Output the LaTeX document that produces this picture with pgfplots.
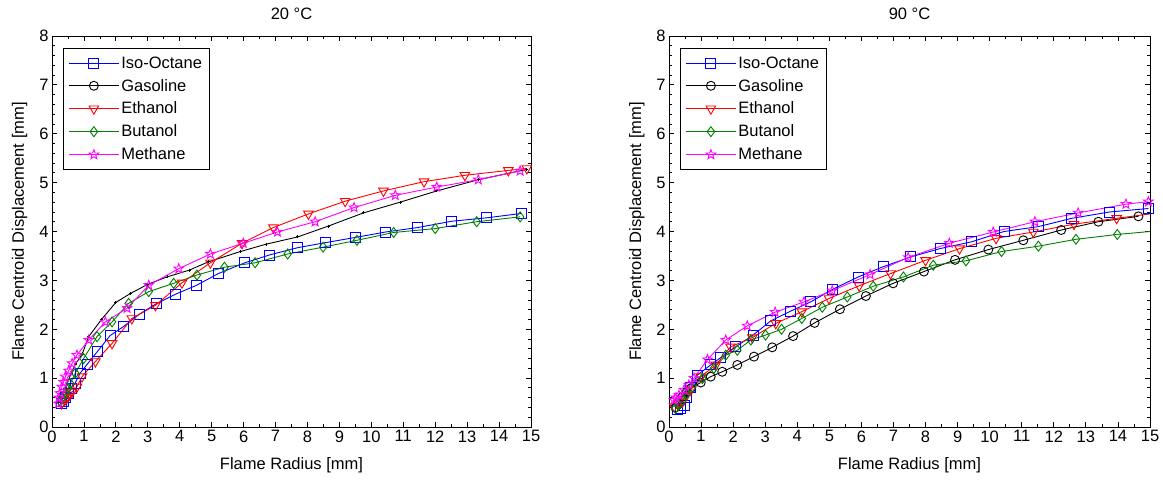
\documentclass[border=0pt]{standalone}
\usepackage{fontspec}
\setmainfont{Liberation Sans}
\usepackage{pgfplots}
\pgfplotsset{compat=1.18}

\pgfdeclareplotmark{pentagram}{%
  \pgfpathmoveto{\pgfpointpolar{90}{\pgfplotmarksize}}%
  \pgfpathlineto{\pgfpointpolar{126}{0.42\pgfplotmarksize}}%
  \pgfpathlineto{\pgfpointpolar{162}{\pgfplotmarksize}}%
  \pgfpathlineto{\pgfpointpolar{198}{0.42\pgfplotmarksize}}%
  \pgfpathlineto{\pgfpointpolar{234}{\pgfplotmarksize}}%
  \pgfpathlineto{\pgfpointpolar{270}{0.42\pgfplotmarksize}}%
  \pgfpathlineto{\pgfpointpolar{306}{\pgfplotmarksize}}%
  \pgfpathlineto{\pgfpointpolar{342}{0.42\pgfplotmarksize}}%
  \pgfpathlineto{\pgfpointpolar{18}{\pgfplotmarksize}}%
  \pgfpathlineto{\pgfpointpolar{54}{0.42\pgfplotmarksize}}%
  \pgfpathclose
  \pgfusepathqstroke
}

\definecolor{mblue}{RGB}{0,0,255}
\definecolor{mred}{RGB}{255,0,0}
\definecolor{mgreen}{RGB}{0,128,0}
\definecolor{mmag}{RGB}{255,0,255}

\newcommand{\fs}{\fontsize{16.5}{19}\selectfont}

\pgfplotsset{
  myaxis/.style={
    scale only axis, width=479pt, height=391pt,
    xmin=0, xmax=15, ymin=0, ymax=8,
    xtick={0,1,...,15}, ytick={0,1,...,8},
    minor x tick num=1, minor y tick num=4,
    tick align=inside, major tick length=5pt, minor tick length=3pt,
    tick style={black, line width=0.8pt},
    axis line style={line width=0.8pt},
    every axis plot/.append style={line width=0.9pt},
    tick label style={font=\fs},
    label style={font=\fs},
    title style={font=\fs, yshift=7pt},
    xlabel={Flame Radius [mm]},
    ylabel={Flame Centroid Displacement [mm]},
    xlabel style={yshift=-8pt},
    ylabel style={yshift=5pt},
    /pgf/number format/assume math mode=true,
    legend cell align=left,
    legend style={at={(0.023,0.969)}, anchor=north west, draw=black, line width=0.8pt,
      font=\fs, row sep=5.5pt, inner xsep=5pt, inner ysep=6pt},
    legend image code/.code={\draw[mark repeat=2,mark phase=2,##1] plot coordinates {(0pt,0pt) (25pt,0pt) (50pt,0pt)};},
  },
  iso/.style={mblue, mark=square, mark size=5pt, mark options={solid}},
  gas/.style={black, mark=o, mark size=4.5pt},
  eth/.style={mred, mark=triangle, mark size=5.5pt, mark options={rotate=180}},
  but/.style={mgreen, mark=diamond, mark size=5pt},
  met/.style={mmag, mark=pentagram, mark size=5pt},
}

\begin{document}
\begin{tikzpicture}[x=1pt,y=1pt]
\useasboundingbox (-52pt,-55pt) rectangle (1111pt,427pt);

% ---------------- 20 C ----------------
\begin{axis}[myaxis, at={(0pt,0pt)}, anchor=south west, title={20 °C}]
\addlegendimage{iso}\addlegendentry{Iso-Octane}
\addlegendimage{gas}\addlegendentry{Gasoline}
\addlegendimage{eth}\addlegendentry{Ethanol}
\addlegendimage{but}\addlegendentry{Butanol}
\addlegendimage{met}\addlegendentry{Methane}

\addplot[iso, forget plot] coordinates {
(0.30,0.48)(0.35,0.52)(0.43,0.60)(0.51,0.69)(0.60,0.79)(0.72,0.89)(0.88,1.10)
(1.11,1.29)(1.43,1.55)(1.82,1.87)(2.25,2.06)(2.74,2.31)(3.26,2.52)(3.88,2.72)
(4.53,2.90)(5.21,3.14)(6.04,3.36)(6.81,3.52)(7.70,3.67)(8.55,3.77)(9.51,3.88)
(10.45,3.99)(11.44,4.08)(12.52,4.21)(13.61,4.28)(14.71,4.37)};

\addplot[black, mark=+, mark size=1.5pt, forget plot] coordinates {
(0.25,0.50)(0.35,0.70)(0.45,0.85)(0.60,1.10)(0.75,1.30)(0.95,1.50)(1.15,1.85)
(1.55,2.20)(2.00,2.55)(2.45,2.73)(3.00,2.92)(3.60,3.07)(4.30,3.21)(4.90,3.38)
(5.90,3.59)(6.70,3.74)(7.70,3.89)(8.65,4.11)(9.75,4.38)(10.90,4.60)(12.05,4.83)
(13.35,5.06)(14.87,5.27)};

\addplot[eth, forget plot] coordinates {
(0.30,0.48)(0.40,0.55)(0.47,0.60)(0.55,0.66)(0.63,0.72)(0.78,0.82)(0.94,1.03)
(1.36,1.34)(1.88,1.71)(2.50,2.22)(3.24,2.49)(4.07,2.95)(4.96,3.36)(5.95,3.76)
(6.93,4.08)(8.03,4.36)(9.18,4.62)(10.38,4.83)(11.65,5.02)(12.93,5.15)(14.29,5.25)
(14.87,5.29)};

\addplot[but, forget plot] coordinates {
(0.26,0.52)(0.34,0.60)(0.42,0.69)(0.50,0.79)(0.57,0.89)(0.73,1.10)(0.99,1.40)
(1.41,1.85)(1.88,2.15)(2.40,2.53)(3.03,2.77)(3.81,2.94)(4.54,3.11)(5.40,3.27)
(6.36,3.36)(7.38,3.54)(8.49,3.68)(9.55,3.82)(10.70,3.98)(12.00,4.06)(13.30,4.20)
(14.66,4.30)};

\addplot[met, forget plot] coordinates {
(0.20,0.48)(0.22,0.60)(0.25,0.69)(0.31,0.82)(0.36,0.92)(0.42,1.03)(0.52,1.15)
(0.63,1.30)(0.78,1.47)(1.15,1.78)(1.67,2.15)(2.35,2.43)(3.03,2.90)(3.97,3.24)
(4.96,3.54)(5.99,3.76)(7.06,3.99)(8.24,4.20)(9.46,4.49)(10.75,4.74)(12.05,4.91)
(13.35,5.06)(14.66,5.24)};
\end{axis}

% ---------------- 90 C ----------------
\begin{axis}[myaxis, at={(617pt,0pt)}, anchor=south west, width=481pt, title={90 °C}]
\addlegendimage{iso}\addlegendentry{Iso-Octane}
\addlegendimage{gas}\addlegendentry{Gasoline}
\addlegendimage{eth}\addlegendentry{Ethanol}
\addlegendimage{but}\addlegendentry{Butanol}
\addlegendimage{met}\addlegendentry{Methane}

\addplot[iso, forget plot] coordinates {
(0.26,0.35)(0.35,0.38)(0.47,0.45)(0.55,0.60)(0.68,0.80)(0.88,1.06)(1.30,1.27)
(1.61,1.42)(2.08,1.64)(2.62,1.88)(3.17,2.17)(3.79,2.37)(4.42,2.56)(5.11,2.82)
(5.90,3.07)(6.68,3.28)(7.54,3.48)(8.45,3.65)(9.44,3.79)(10.45,4.00)(11.52,4.10)
(12.56,4.27)(13.75,4.40)(14.95,4.47)};

\addplot[gas, forget plot] coordinates {
(0.20,0.40)(0.30,0.50)(0.42,0.62)(0.55,0.72)(0.68,0.79)(0.99,0.91)(1.30,1.03)
(1.66,1.13)(2.13,1.27)(2.65,1.44)(3.22,1.63)(3.87,1.86)(4.54,2.13)(5.33,2.41)
(6.14,2.68)(6.99,2.94)(7.95,3.18)(8.92,3.42)(9.96,3.63)(11.05,3.82)(12.23,4.03)
(13.39,4.20)(14.64,4.31)};

\addplot[eth, forget plot] coordinates {
(0.16,0.42)(0.28,0.47)(0.42,0.52)(0.55,0.65)(0.68,0.76)(0.99,1.03)(1.46,1.27)
(1.92,1.64)(2.60,1.83)(3.33,2.12)(4.14,2.36)(4.99,2.63)(5.93,2.89)(6.91,3.14)
(8.00,3.41)(9.06,3.65)(10.20,3.86)(11.36,3.99)(12.63,4.15)(13.96,4.27)};
\addplot[mred, forget plot] coordinates {(13.96,4.27)(15.00,4.36)};

\addplot[but, forget plot] coordinates {
(0.20,0.38)(0.30,0.45)(0.42,0.55)(0.55,0.68)(0.73,0.82)(1.04,0.99)(1.40,1.20)
(1.77,1.47)(2.13,1.57)(2.55,1.78)(3.01,1.88)(3.51,2.00)(4.14,2.22)(4.78,2.45)
(5.56,2.66)(6.37,2.88)(7.31,3.07)(8.24,3.31)(9.26,3.40)(10.37,3.59)(11.52,3.70)
(12.69,3.84)(13.98,3.94)};
\addplot[mgreen, forget plot] coordinates {(13.98,3.94)(15.00,4.00)};

\addplot[met, forget plot] coordinates {
(0.16,0.55)(0.22,0.60)(0.31,0.65)(0.47,0.76)(0.62,0.86)(0.78,1.00)(1.20,1.38)
(1.77,1.78)(2.44,2.07)(3.31,2.35)(4.21,2.56)(5.09,2.79)(6.27,3.12)(7.46,3.47)
(8.74,3.76)(10.11,3.99)(11.41,4.20)(12.76,4.38)(14.25,4.56)(14.95,4.61)};
\end{axis}
\end{tikzpicture}
\end{document}
